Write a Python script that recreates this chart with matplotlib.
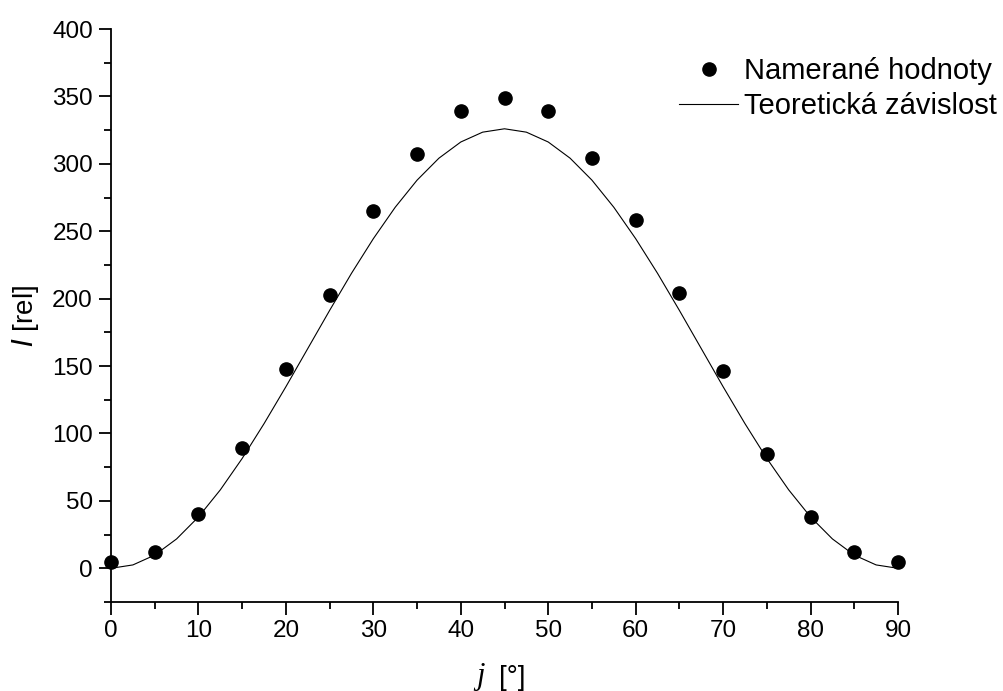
import matplotlib.pyplot as plt
from matplotlib.ticker import MultipleLocator

# namerane hodnoty (odcitane z grafu)
uhol = [0, 5, 10, 15, 20, 25, 30, 35, 40, 45, 50, 55, 60, 65, 70, 75, 80, 85, 90]
intenzita = [5, 12, 40, 89, 148, 203, 265, 307, 339, 349, 339, 304, 258, 204, 146, 85, 38, 12, 5]

# teoreticka zavislost (odcitana z krivky, krok 2.5 stupna)
uhol_teor = [0, 2.5, 5, 7.5, 10, 12.5, 15, 17.5, 20, 22.5, 25, 27.5, 30, 32.5, 35, 37.5, 40, 42.5,
             45, 47.5, 50, 52.5, 55, 57.5, 60, 62.5, 65, 67.5, 70, 72.5, 75, 77.5, 80, 82.5, 85, 87.5, 90]
intenzita_teor = [0, 2.5, 9.8, 21.8, 38.1, 58.2, 81.5, 107.3, 134.7, 163.0, 191.3, 218.8, 244.5, 267.8,
                  287.9, 304.2, 316.2, 323.5, 326.0, 323.5, 316.2, 304.2, 287.9, 267.8, 244.5, 218.8,
                  191.3, 163.0, 134.7, 107.3, 81.5, 58.2, 38.1, 21.8, 9.8, 2.5, 0]

plt.rcParams["font.family"] = ["Liberation Sans", "DejaVu Sans"]

fig = plt.figure(figsize=(10.04, 6.91), dpi=100)
ax = fig.add_axes([0.1106, 0.1288, 0.7838, 0.8292])

ax.plot(uhol, intenzita, "o", color="black", markersize=9.5, label="Namerané hodnoty", zorder=3)
ax.plot(uhol_teor, intenzita_teor, "-", color="black", linewidth=0.8, label="Teoretická závislost")

ax.set_xlim(0, 90)
ax.set_ylim(-25, 400)
ax.xaxis.set_major_locator(MultipleLocator(10))
ax.xaxis.set_minor_locator(MultipleLocator(5))
ax.yaxis.set_major_locator(MultipleLocator(50))
ax.yaxis.set_minor_locator(MultipleLocator(25))

for s in ["top", "right"]:
    ax.spines[s].set_visible(False)
for s in ["left", "bottom"]:
    ax.spines[s].set_linewidth(1.3)

ax.tick_params(which="major", direction="out", length=9, width=1.3, labelsize=17.5, pad=4)
ax.tick_params(which="minor", direction="out", length=5, width=1.3)
for l in ax.lines:
    l.set_clip_on(False)

# popisky osi
ax.set_ylabel("$\\mathit{I}$ [rel]", fontsize=20, labelpad=8)
fig.text(0.474, 0.0, "j", fontsize=22, family="Liberation Serif", style="italic", ha="left", va="bottom")
fig.text(0.497, 0.0, "[°]", fontsize=20, ha="left", va="bottom")

ax.legend(loc="upper right", bbox_to_anchor=(1.14, 0.972), frameon=False, fontsize=21,
          handlelength=2.0, handletextpad=0.2, labelspacing=0.25, borderaxespad=0)

fig.savefig("out.png", dpi=100)
plt.close()
